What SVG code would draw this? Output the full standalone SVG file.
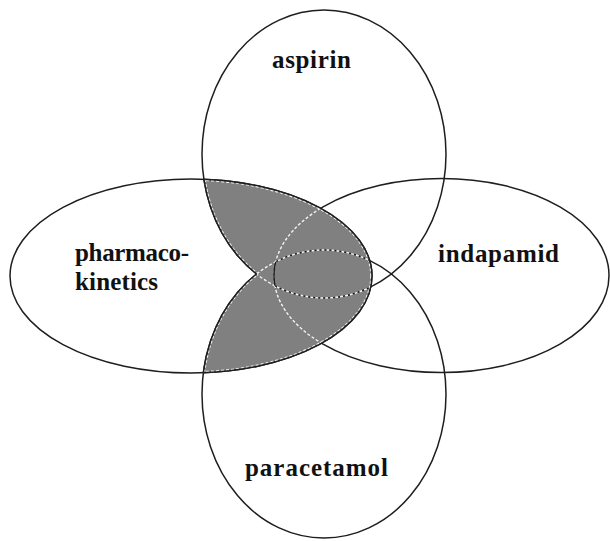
<svg xmlns="http://www.w3.org/2000/svg" width="610" height="541" viewBox="0 0 610 541">
<style>
.ol{fill:none;stroke:#1e1e1e;stroke-width:1.5}
.lbl{font-family:"Liberation Serif","Times New Roman",serif;font-weight:bold;font-size:25px;fill:#111}
.wd{fill:none;stroke:#f4f4f4;stroke-width:1.4;stroke-dasharray:3 2}
.bd{fill:none;stroke:#1e1e1e;stroke-width:1.4;stroke-dasharray:2 3;stroke-dashoffset:-3}
</style>
<defs>
<clipPath id="cK"><ellipse cx="191" cy="276" rx="181" ry="97"/></clipPath>
<clipPath id="cA"><ellipse cx="324" cy="154" rx="122" ry="144"/></clipPath>
<clipPath id="cAP"><ellipse cx="324" cy="154" rx="122" ry="144"/><ellipse cx="324" cy="394" rx="122" ry="144"/></clipPath>
<clipPath id="cI"><ellipse cx="441.5" cy="275.5" rx="167.5" ry="97"/></clipPath>
<clipPath id="cLens" clip-path="url(#cA)"><ellipse cx="324" cy="394" rx="122" ry="144"/></clipPath>
<mask id="notP" maskUnits="userSpaceOnUse" x="0" y="0" width="610" height="541"><rect x="0" y="0" width="610" height="541" fill="#fff"/><ellipse cx="324" cy="394" rx="122" ry="144" fill="#000"/></mask>
<mask id="notA" maskUnits="userSpaceOnUse" x="0" y="0" width="610" height="541"><rect x="0" y="0" width="610" height="541" fill="#fff"/><ellipse cx="324" cy="154" rx="122" ry="144" fill="#000"/></mask>
<g id="bnd">
<g clip-path="url(#cAP)"><ellipse cx="191" cy="276" rx="181" ry="97"/></g>
<g clip-path="url(#cK)" mask="url(#notP)"><ellipse cx="324" cy="154" rx="122" ry="144"/></g>
<g clip-path="url(#cK)" mask="url(#notA)"><ellipse cx="324" cy="394" rx="122" ry="144"/></g>
</g>
</defs>
<rect x="0" y="0" width="610" height="541" fill="#fff"/>
<g id="aspirin">
<ellipse class="ol" cx="324" cy="154" rx="122" ry="144"/>
<text class="lbl" x="272" y="68" textLength="79" lengthAdjust="spacing">aspirin</text>
</g>
<g id="paracetamol">
<ellipse class="ol" cx="324" cy="394" rx="122" ry="144"/>
<text class="lbl" x="245" y="476" textLength="143" lengthAdjust="spacing">paracetamol</text>
</g>
<g id="pharmacokinetics">
<ellipse class="ol" cx="191" cy="276" rx="181" ry="97"/>
<text class="lbl" x="75" y="261" textLength="114" lengthAdjust="spacing">pharmaco-</text>
<text class="lbl" x="75" y="290" textLength="83" lengthAdjust="spacing">kinetics</text>
</g>
<g id="indapamid">
<ellipse class="ol" cx="441.5" cy="275.5" rx="167.5" ry="97"/>
<text class="lbl" x="438" y="262" textLength="121" lengthAdjust="spacing">indapamid</text>
</g>
<g id="overlap">
<g clip-path="url(#cK)"><g clip-path="url(#cAP)">
<rect x="0" y="0" width="610" height="541" fill="#808080"/>
<use href="#bnd" fill="none" stroke="#f4f4f4" stroke-width="3.6" stroke-dasharray="3 2"/>
<ellipse class="wd" cx="324" cy="154" rx="122" ry="144"/>
<ellipse class="wd" cx="324" cy="394" rx="122" ry="144"/>
<ellipse class="wd" cx="441.5" cy="275.5" rx="167.5" ry="97"/>
<g clip-path="url(#cI)">
<ellipse class="bd" cx="324" cy="154" rx="122" ry="144"/>
<ellipse class="bd" cx="324" cy="394" rx="122" ry="144"/>
</g>
<g clip-path="url(#cLens)">
<ellipse class="ol" cx="441.5" cy="275.5" rx="167.5" ry="97"/>
</g>
</g></g>
<use href="#bnd" fill="none" stroke="#1e1e1e" stroke-width="1.5"/>
</g>
</svg>
